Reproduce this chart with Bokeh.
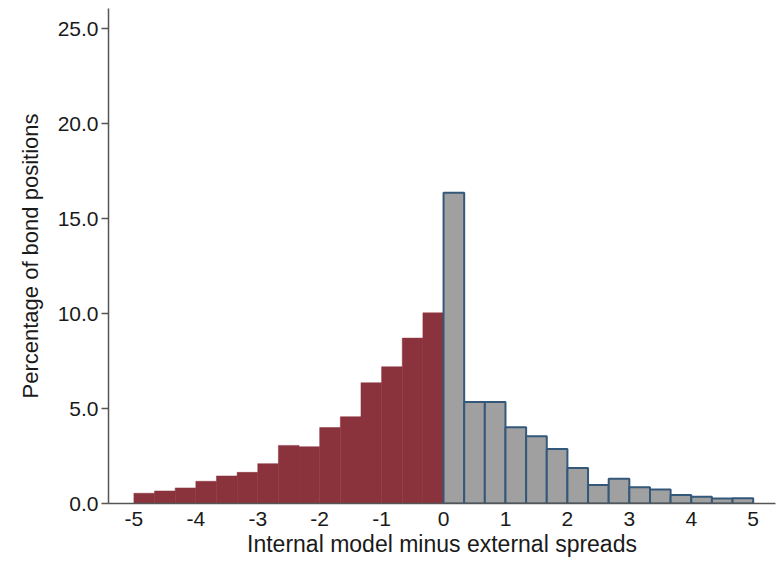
from bokeh.plotting import figure
from bokeh.embed import file_html
from bokeh.resources import INLINE
from bokeh.models import PrintfTickFormatter, FixedTicker, Range1d

# Bin edges (in spread units), bins of width 1/3
neg_left = [-5.0, -14/3, -13/3, -4.0, -11/3, -10/3, -3.0, -8/3, -7/3, -2.0, -5/3, -4/3, -1.0, -2/3, -1/3]
neg_right = [-14/3, -13/3, -4.0, -11/3, -10/3, -3.0, -8/3, -7/3, -2.0, -5/3, -4/3, -1.0, -2/3, -1/3, 0.0]
neg_pct = [0.54, 0.66, 0.82, 1.17, 1.45, 1.64, 2.10, 3.06, 2.99, 4.00, 4.57, 6.36, 7.20, 8.71, 10.04]

pos_left = [0.0, 1/3, 2/3, 1.0, 4/3, 5/3, 2.0, 7/3, 8/3, 3.0, 10/3, 11/3, 4.0, 13/3, 14/3]
pos_right = [1/3, 2/3, 1.0, 4/3, 5/3, 2.0, 7/3, 8/3, 3.0, 10/3, 11/3, 4.0, 13/3, 14/3, 5.0]
pos_pct = [16.37, 5.35, 5.35, 4.02, 3.54, 2.87, 1.87, 0.98, 1.30, 0.86, 0.74, 0.45, 0.35, 0.26, 0.28]

x_ticks = [-5, -4, -3, -2, -1, 0, 1, 2, 3, 4, 5]
x_tick_labels = ["-5", "-4", "-3", "-2", "-1", "0", "1", "2", "3", "4", "5"]
y_ticks = [0, 5, 10, 15, 20, 25]

p = figure(width=777, height=564, output_backend="svg", toolbar_location=None,
           x_range=Range1d(-5.41, 5.36), y_range=Range1d(0, 26.07),
           min_border_left=108, min_border_right=2, min_border_top=8, min_border_bottom=61)
p.outline_line_color = None
p.grid.visible = False
p.background_fill_color = "white"

p.quad(left=neg_left, right=neg_right, bottom=0, top=neg_pct,
       fill_color="#8B333C", line_color="#8B333C", line_width=0.5)
p.quad(left=pos_left, right=pos_right, bottom=0, top=pos_pct,
       fill_color="#A0A0A0", line_color="#34587A", line_width=2)

font = "Liberation Sans"
p.xaxis.ticker = FixedTicker(ticks=x_ticks)
p.xaxis.major_label_overrides = {t: s for t, s in zip(x_ticks, x_tick_labels)}
p.yaxis.ticker = FixedTicker(ticks=y_ticks)
p.yaxis.formatter = PrintfTickFormatter(format="%.1f")

for ax in (p.xaxis[0], p.yaxis[0]):
    ax.axis_line_color = "#555555"
    ax.axis_line_width = 1.5
    ax.major_tick_line_color = "#555555"
    ax.major_tick_line_width = 1.5
    ax.minor_tick_line_color = None
    ax.major_tick_in = 0
    ax.major_label_text_font = font
    ax.major_label_text_font_size = "21px"
    ax.major_label_text_color = "#1a1a1a"
    ax.axis_label_text_font = font
    ax.axis_label_text_font_style = "normal"
    ax.axis_label_text_color = "#1a1a1a"

p.xaxis.major_tick_out = 0
p.yaxis.major_tick_out = 7
p.xaxis.major_label_standoff = 8
p.yaxis.major_label_standoff = 3
p.xaxis.axis_label = "Internal model minus external spreads"
p.xaxis.axis_label_text_font_size = "23px"
p.xaxis.axis_label_standoff = 2
p.yaxis.axis_label = "Percentage of bond positions"
p.yaxis.axis_label_text_font_size = "22px"
p.yaxis.axis_label_standoff = 12

open("out.html", "w").write(file_html(p, INLINE))
